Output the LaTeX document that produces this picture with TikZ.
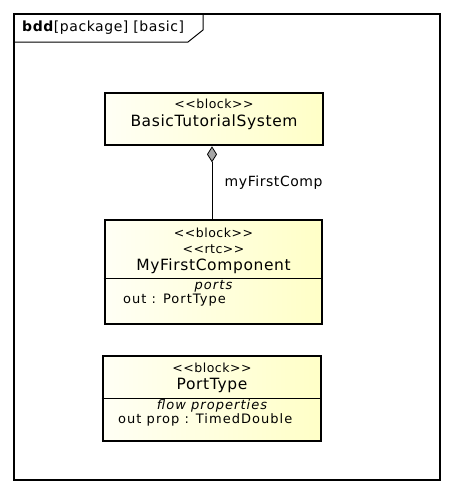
\documentclass[tikz,border=0pt]{standalone}
\usepackage{fontspec}
\setmainfont{DejaVu Sans}
\newfontfamily\umlfont[LetterSpace=4]{DejaVu Sans}
\newfontfamily\umlwide[LetterSpace=8]{DejaVu Sans}
\usetikzlibrary{arrows.meta,positioning}

\newcommand{\stereotype}[1]{<{}<#1>{}>}

\tikzset{
    block/.style={draw, line width=2.6pt, left color=yellow!4, right color=yellow!22, inner sep=0pt},
    stereo/.style={font=\umlfont\fontsize{12.5}{14}\selectfont, inner sep=0pt},
    bname/.style={font=\umlfont\fontsize{15.5}{17}\selectfont, inner sep=0pt},
    compart/.style={font=\umlwide\fontsize{13}{15}\selectfont\itshape, inner sep=0pt},
    attr/.style={font=\umlwide\fontsize{13}{15}\selectfont, inner sep=0pt, anchor=west},
    divider/.style={line width=0.8pt}
}

\begin{document}
\begin{tikzpicture}[x=1pt, y=-1pt]
    \useasboundingbox (0,0) rectangle (453,493);

    % Frame and tab
    \draw [line width=1.2pt] (14,14) rectangle (440,480);
    \draw [line width=1pt] (14,42) -- (188,42) -- (203,30) -- (203,14);
    \node [font=\umlfont\fontsize{14}{16}\selectfont, inner sep=0pt, anchor=west] (tab) at (22,28) {\textbf{bdd}[package] [basic]};

    % Blocks {sys, comp, port}
    \node [block, minimum width=218pt, minimum height=52pt]  (sys)  at (214,119)   {};
    \node [block, minimum width=217pt, minimum height=104pt] (comp) at (213.5,272) {};
    \node [block, minimum width=218pt, minimum height=85pt]  (port) at (212,398.5) {};

    % Texts of sys
    \node [stereo] (sysst)   at (214,104) {\stereotype{block}};
    \node [bname]  (sysname) at (214,122) {BasicTutorialSystem};

    % Texts of comp
    \node [stereo] (compst)   at (213.5,233) {\stereotype{block}};
    \node [stereo] (comprtc)  at (213.5,249) {\stereotype{rtc}};
    \node [bname]  (compname) at (213.5,266) {MyFirstComponent};
    \draw [divider] (comp.west |- 0,278) -- (comp.east |- 0,278);
    \node [compart] (compports) at (213.5,286) {ports};
    \node [attr]    (compout)   at (123,300)   {out : PortType};

    % Texts of port
    \node [stereo] (portst)   at (212,368) {\stereotype{block}};
    \node [bname]  (portname) at (212,385) {PortType};
    \draw [divider] (port.west |- 0,398) -- (port.east |- 0,398);
    \node [compart] (portflow) at (212,406) {flow properties};
    \node [attr]    (portout)  at (118,420) {out prop : TimedDouble};

    % Composition
    \draw [line width=0.8pt, -{Diamond[length=16pt, width=10pt, fill=gray!70]}]
        (comp.north -| 212,0) -- node [right=9pt, font=\umlfont\fontsize{14}{16}\selectfont] (complabel) {myFirstComp} (sys.south -| 212,0);
\end{tikzpicture}
\end{document}
